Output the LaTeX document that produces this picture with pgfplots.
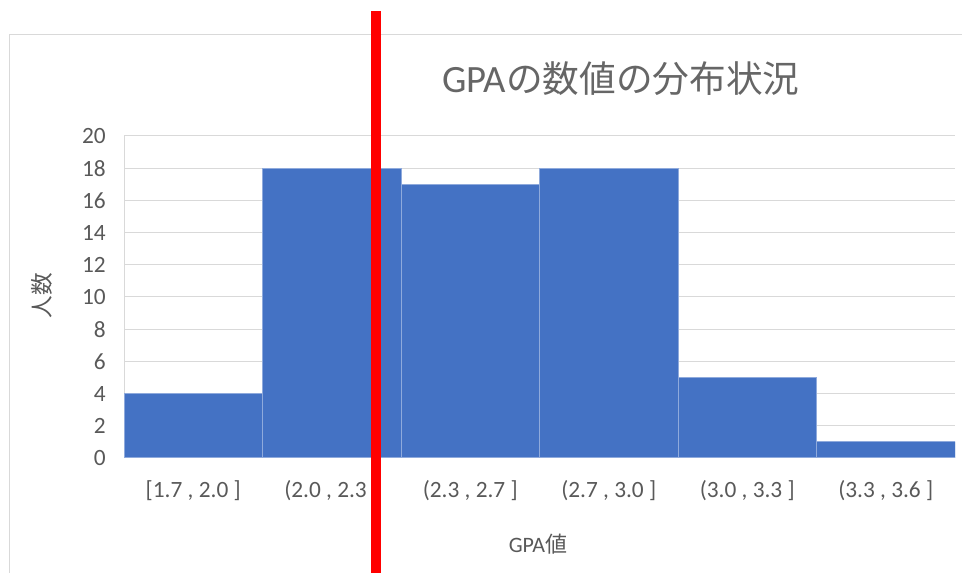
\documentclass[border=0pt]{standalone}
\usepackage{fontspec}
\setmainfont{Carlito}
\newfontfamily\cjk{Noto Sans CJK JP}
\usepackage{pgfplots}
\pgfplotsset{compat=1.18}
\definecolor{barblue}{HTML}{4472C4}
\definecolor{bardraw}{HTML}{8FAADC}
\definecolor{gridgray}{HTML}{D9D9D9}
\definecolor{txtgray}{HTML}{595959}
\definecolor{titlegray}{HTML}{666666}
\begin{document}
\begin{tikzpicture}[x=0.75pt,y=0.75pt]
\useasboundingbox (0,0) rectangle (962,573);
\draw[gridgray, line width=0.75pt] (9.5,0) -- (9.5,538.5) -- (962,538.5);
\begin{axis}[
  at={(93pt,86.25pt)}, anchor=south west,
  scale only axis, width=623.25pt, height=241.5pt,
  xmin=-0.5, xmax=5.5, ymin=0, ymax=20,
  ytick={0,2,...,20},
  xtick={0,...,5},
  xticklabels={{[1.7 , 2.0 ]},{(2.0 , 2.3 ]},{(2.3 , 2.7 ]},{(2.7 , 3.0 ]},{(3.0 , 3.3 ]},{(3.3 , 3.6 ]}},
  major tick length=0pt,
  axis x line*=bottom, axis y line*=left,
  axis line style={gridgray, line width=0.75pt, -},
  ymajorgrids, grid style={gridgray, line width=0.75pt},
  tick label style={font=\fontsize{17.5}{17.5}\selectfont, text=txtgray},
  yticklabel style={anchor=east, inner sep=0pt, xshift=-13.5pt},
  xticklabel style={anchor=north, inner sep=0pt, yshift=-17pt},
  /pgf/number format/assume math mode=true,
  ybar, bar width=1,
]
\addplot[ybar, fill=barblue, draw=bardraw, line width=0.75pt] coordinates {(0,4) (1,18) (2,17) (3,18) (4,5) (5,1)};
\end{axis}
\node[text=txtgray, font=\cjk\fontsize{17}{17}\selectfont, rotate=90, inner sep=0pt] at (42,277) {人数};
\node[text=txtgray, inner sep=0pt] at (538,29) {\fontsize{16.5}{16.5}\selectfont GPA{\cjk 値}};
\node[text=titlegray, inner sep=0pt] at (621,494) {{\fontsize{29}{29}\selectfont GPA}{\cjk\fontsize{27.5}{27.5}\selectfont の数値の分布状況}};
\draw[red, line width=7.5pt] (376,0) -- (376,562);
\end{tikzpicture}
\end{document}
